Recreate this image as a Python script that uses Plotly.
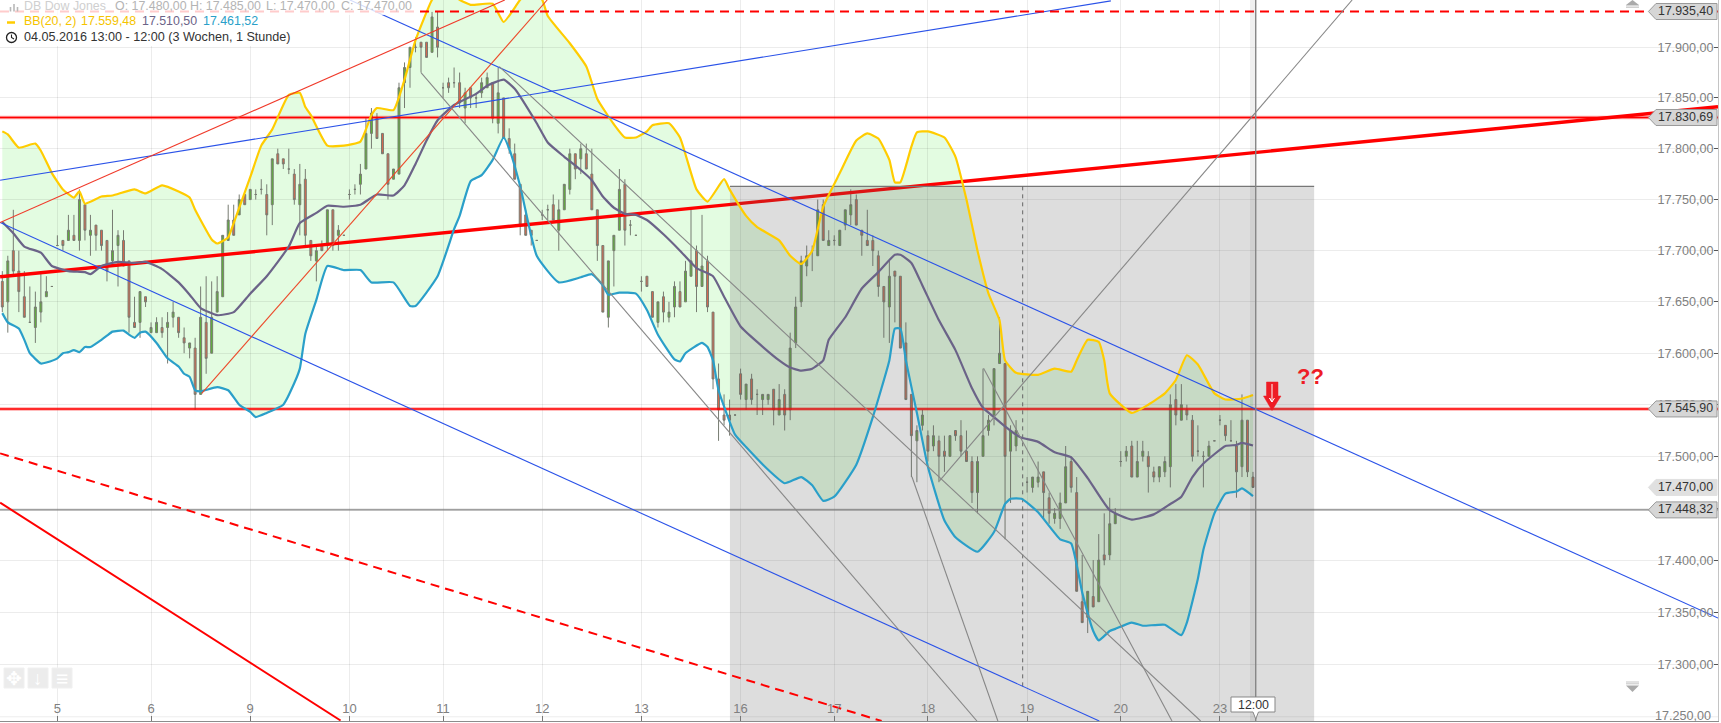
import math
import plotly.graph_objects as go

# ---------- chart data ----------
bars = list(range(228))
open_ = [17670,17650,17700,17680,17655,17630,17625,17640,17655,17665,
 17705,17710,17710,17715,17710,17745,17715,17725,17720,17710,
 17690,17705,17710,17690,17630,17630,17655,17620,17620,17625,
 17625,17635,17635,17615,17605,17605,17560,17630,17600,17640,
 17655,17710,17730,17735,17755,17750,17755,17760,17755,17745,
 17795,17790,17780,17775,17745,17770,17710,17690,17705,17705,
 17740,17715,17715,17755,17760,17765,17780,17815,17830,17815,
 17795,17770,17775,17865,17880,17900,17905,17905,17895,17920,
 17860,17865,17865,17865,17840,17860,17850,17855,17860,17865,
 17825,17850,17810,17795,17765,17735,17720,17710,17735,17740,
 17745,17720,17740,17760,17795,17790,17795,17775,17740,17705,
 17635,17700,17720,17765,17725,17715,17670,17675,17660,17630,
 17655,17635,17645,17660,17650,17675,17700,17665,17690,17640,
 17575,17540,17540,17540,17580,17555,17575,17560,17555,17555,
 17565,17540,17560,17545,17610,17650,17685,17700,17695,17745,
 17705,17710,17705,17725,17735,17750,17720,17710,17710,17695,
 17665,17645,17680,17675,17610,17560,17515,17530,17520,17510,
 17515,17505,17500,17525,17520,17505,17495,17465,17500,17525,
 17540,17590,17590,17505,17510,None,17475,17470,17475,17485,
 17460,17440,17440,17455,17495,17465,17360,17345,17365,17360,
 17405,17405,17435,17495,17500,17510,17480,17500,17500,17485,
 17480,17485,17490,17555,17535,17545,17535,17505,17500,17500,
 17515,17535,17530,17515,17510,17490,17535,17480]
high = [17680,17695,17740,17700,17680,17665,17660,17680,17675,17665,
 17715,17710,17735,17735,17760,17745,17735,17725,17720,17710,
 17740,17720,17720,17690,17655,17660,17655,17630,17635,17635,
 17640,17650,17635,17625,17610,17615,17665,17675,17670,17675,
 17715,17745,17745,17755,17755,17760,17760,17770,17765,17790,
 17800,17790,17800,17780,17785,17780,17710,17705,17710,17740,
 17740,17725,17715,17760,17765,17785,17830,17840,17835,17815,
 17795,17780,17865,17885,17900,17910,17905,17905,17935,17935,
 17865,17870,17880,17875,17860,17860,17855,17870,17875,17865,
 17880,17850,17820,17805,17765,17740,17720,17710,17740,17745,
 17755,17750,17765,17800,17795,17805,17805,17800,17740,17705,
 17690,17715,17780,17770,17730,17715,17675,17675,17660,17650,
 17660,17650,17670,17670,17690,17740,17705,17735,17695,17640,
 17590,17560,17555,17540,17585,17570,17580,17565,17560,17560,
 17565,17570,17565,17620,17655,17695,17705,17705,17750,17750,
 17720,17715,17720,17740,17760,17755,17720,17740,17715,17700,
 17665,17690,17680,17675,17630,17560,17530,17545,17525,17530,
 17520,17520,17520,17525,17535,17525,17500,17500,17585,17540,
 17585,17635,17590,17530,17535,None,17480,17480,17495,17485,
 17465,17450,17465,17510,17500,17480,17405,17370,17400,17425,
 17445,17460,17450,17505,17510,17515,17515,17515,17505,17490,
 17490,17500,17560,17570,17570,17550,17540,17530,17505,17515,
 17515,17540,17530,17535,17515,17560,17535,17485]
low = [17640,17620,17675,17640,17635,17630,17610,17630,17655,17665,
 17705,17700,17710,17710,17700,17710,17695,17700,17700,17670,
 17685,17665,17685,17620,17625,17615,17645,17620,17620,17615,
 17590,17625,17615,17600,17595,17545,17560,17580,17600,17640,
 17655,17710,17715,17735,17745,17750,17750,17755,17715,17725,
 17785,17780,17775,17745,17715,17705,17690,17670,17700,17700,
 17700,17700,17715,17750,17755,17755,17780,17800,17810,17795,
 17750,17770,17775,17840,17860,17895,17875,17890,17895,17890,
 17850,17855,17860,17840,17825,17840,17840,17850,17860,17825,
 17815,17810,17795,17770,17715,17715,17705,17710,17730,17730,
 17730,17700,17740,17755,17770,17775,17780,17740,17690,17640,
 17625,17665,17720,17705,17715,17715,17660,17665,17635,17625,
 17630,17630,17635,17645,17650,17675,17640,17665,17640,17565,
 17515,17530,17520,17540,17555,17545,17550,17540,17540,17550,
 17530,17540,17525,17535,17605,17645,17675,17680,17695,17710,
 17705,17705,17705,17720,17725,17725,17695,17705,17685,17655,
 17615,17610,17630,17605,17555,17480,17475,17525,17495,17505,
 17475,17485,17500,17515,17500,17495,17455,17445,17500,17520,
 17530,17590,17420,17455,17505,None,17465,17465,17470,17440,
 17435,17435,17430,17455,17465,17370,17340,17330,17355,17360,
 17395,17400,17435,17490,17495,17480,17480,17495,17465,17475,
 17475,17480,17470,17530,17535,17535,17495,17500,17470,17500,
 17515,17530,17515,17515,17460,17480,17480,17470]
close = [17645,17690,17680,17660,17635,17630,17645,17650,17660,17665,
 17705,17705,17720,17710,17750,17720,17720,17715,17705,17680,
 17700,17715,17685,17635,17625,17660,17650,17625,17630,17620,
 17630,17640,17620,17610,17610,17560,17635,17595,17635,17660,
 17715,17730,17715,17750,17745,17760,17755,17760,17735,17790,
 17785,17785,17780,17750,17765,17715,17695,17700,17700,17740,
 17705,17720,17715,17755,17760,17775,17815,17835,17810,17795,
 17765,17780,17860,17880,17900,17900,17900,17890,17930,17900,
 17860,17860,17865,17845,17855,17850,17850,17865,17870,17830,
 17855,17810,17800,17770,17725,17715,17715,17710,17735,17740,
 17730,17740,17765,17795,17780,17800,17780,17740,17705,17640,
 17690,17715,17760,17720,17725,17715,17670,17665,17635,17650,
 17640,17640,17665,17645,17680,17690,17665,17685,17645,17575,
 17545,17535,17535,17540,17560,17570,17555,17560,17560,17560,
 17545,17555,17540,17605,17645,17690,17695,17700,17740,17710,
 17710,17710,17720,17740,17745,17725,17715,17705,17700,17665,
 17650,17675,17675,17605,17555,17520,17525,17540,17505,17520,
 17500,17500,17520,17520,17505,17495,17465,17495,17520,17535,
 17585,17600,17500,17525,17525,None,17475,17480,17480,17465,
 17445,17445,17455,17490,17470,17370,17340,17370,17355,17400,
 17400,17435,17445,17495,17505,17480,17495,17505,17490,17480,
 17490,17495,17550,17540,17550,17540,17500,17505,17500,17510,
 17515,17535,17520,17515,17485,17535,17485,17470]

upper_x = [0,1,3,6,7,9,11,13,14,15,18,20,24,26,29,32,34,35,38,39,41,42,45,47,49,52,54,55,56,59,62,65,67,68,71,73,75,78,80,83,85,89,91,94,96,98,99,103,106,108,111,113,115,117,118,121,123,126,128,131,132,135,137,141,143,145,147,149,152,155,157,159,161,162,163,165,166,168,171,173,175,177,179,181,182,184,188,191,194,195,197,199,200,201,205,208,211,213,215,217,220,222,225,227]
upper_y = [17817,17814,17801,17805,17798,17776,17760,17752,17758,17746,17753,17754,17760,17756,17764,17758,17752,17740,17711,17707,17713,17727,17772,17803,17819,17853,17855,17841,17833,17803,17803,17807,17833,17840,17838,17868,17907,17947,17961,17947,17942,17943,17925,17947,17957,17947,17931,17904,17881,17849,17824,17811,17811,17817,17823,17825,17811,17760,17748,17770,17760,17734,17723,17710,17695,17687,17700,17743,17776,17808,17815,17810,17789,17767,17767,17802,17816,17817,17811,17792,17750,17700,17658,17632,17593,17581,17579,17585,17582,17593,17613,17611,17593,17561,17542,17550,17561,17574,17598,17589,17561,17555,17556,17559.48]

middle_x = [0,2,4,7,9,12,15,16,18,21,24,26,29,32,34,36,39,42,45,48,52,54,57,59,62,65,68,71,73,75,77,79,82,86,88,91,93,97,99,102,105,107,109,111,113,115,117,120,123,126,129,131,134,137,141,143,145,147,149,150,153,156,159,162,163,165,167,170,173,176,178,180,182,184,185,188,191,194,197,201,205,209,212,214,216,218,222,224,225,227]
middle_y = [17728,17717,17704,17698,17685,17680,17679,17677,17685,17689,17688,17689,17682,17669,17657,17644,17637,17640,17658,17675,17704,17727,17737,17744,17743,17745,17755,17754,17764,17785,17808,17828,17843,17854,17862,17868,17859,17825,17806,17792,17779,17769,17753,17742,17736,17735,17730,17716,17700,17683,17675,17655,17626,17611,17593,17586,17583,17585,17593,17613,17635,17663,17679,17696,17696,17688,17666,17632,17603,17566,17547,17538,17529,17521,17518,17514,17504,17499,17479,17448,17439,17444,17454,17461,17480,17493,17510,17511,17513,17510.50]

lower_x = [0,1,3,4,5,7,8,10,11,12,13,14,15,16,18,19,20,22,23,24,25,26,28,30,32,33,34,35,36,39,41,43,45,46,48,51,53,54,55,57,59,62,65,67,71,74,75,79,82,83,85,87,89,91,92,94,97,101,105,107,109,110,112,115,117,119,122,123,124,127,128,129,130,133,135,139,142,145,147,149,151,155,158,161,162,163,164,166,168,171,173,177,180,182,183,185,188,192,194,196,198,199,201,202,205,207,211,214,215,217,218,220,222,224,225,227]
lower_y = [17639,17630,17624,17613,17600,17590,17591,17595,17600,17601,17603,17601,17606,17606,17613,17617,17621,17622,17618,17615,17620,17621,17610,17595,17587,17580,17577,17564,17563,17567,17564,17550,17543,17538,17542,17550,17571,17585,17619,17652,17685,17681,17681,17669,17669,17646,17646,17675,17721,17734,17768,17774,17789,17811,17800,17763,17695,17669,17674,17677,17666,17657,17659,17658,17642,17618,17594,17592,17600,17610,17606,17593,17564,17521,17509,17487,17474,17480,17472,17457,17461,17492,17538,17593,17624,17624,17593,17542,17490,17438,17422,17408,17427,17454,17459,17459,17446,17420,17416,17369,17332,17323,17332,17334,17340,17337,17338,17328,17340,17382,17410,17445,17464,17466,17469,17461.52]

x_ticks = [10,27,45,63,80,98,116,134,151,168,186,203,221]
x_labels = ["5","6","9","10","11","12","13","16","17","18","19","20","23"]
y_ticks = [17250,17300,17350,17400,17450,17500,17550,17600,17650,17700,17750,17800,17850,17900]
y_labels = ["17.250,00","17.300,00","17.350,00","17.400,00","17.450,00","17.500,00","17.550,00","17.600,00","17.650,00","17.700,00","17.750,00","17.800,00","17.850,00","17.900,00"]

level_prices = [17935.40, 17830.69, 17545.90, 17470.00, 17448.32]
level_labels = ["17.935,40", "17.830,69", "17.545,90", "17.470,00", "17.448,32"]

thick_red = ([-0.4, 311.4], [17674.5, 17841.3])
blue_up = ([-0.4, 201.2], [17769.0, 17945.9])
blue_mid = ([63.1, 311.4], [17946.8, 17344.4])
blue_low = ([-0.4, 199.1], [17727.5, 17246.0])
red_thin_a = ([-0.4, 91.2], [17727.5, 17946.8])
red_thin_b = ([36.2, 98.9], [17561.0, 17946.8])
red_dash = ([-0.4, 159.6], [17502.9, 17246.0])
red_solid = ([-0.4, 61.4], [17455.3, 17246.5])
gray_lines = [([76.0, 176.9], [17874.9, 17246.0]),
              ([90.2, 217.5], [17880.9, 17246.0]),
              ([165.1, 180.7], [17480.3, 17246.0]),
              ([178.1, 212.3], [17585.3, 17246.0]),
              ([170.1, 245.0], [17476.4, 17946.8])]
box_x = [132.07, 238.1]
box_y = [17246.0, 17763.0]
dash_v = ([185.2, 185.2], [17763.0, 17277.5])
cursor_x = 227.5

# ---------- layout constants ----------
W, H = 1721, 723
PW, PH = 1718.0, 721.0
XR = [-0.417, 311.4]
YR = [17246.0, 17946.8]
LOG_R = [math.log10(YR[0]), math.log10(YR[1])]
def X(px): return px / PW
def Y(py): return 1 - py / PH
def price_py(p): return (LOG_R[1] - math.log10(p)) / (LOG_R[1] - LOG_R[0]) * PH
def path(pts, close_it=True):
    s = "M" + " L".join(f"{X(a):.5f},{Y(b):.5f}" for a, b in pts)
    return s + (" Z" if close_it else "")

fig = go.Figure()
LW = lambda c, w=1, d="solid": dict(color=c, width=w, dash=d)
def line(xy, color, width=1, dash="solid", opacity=1):
    fig.add_trace(go.Scatter(x=xy[0], y=xy[1], mode="lines", line=LW(color, width, dash),
                             opacity=opacity, hoverinfo="skip", showlegend=False))

fig.add_trace(go.Candlestick(x=bars, open=open_, high=high, low=low, close=close,
    increasing=dict(line=dict(color="#777c72", width=1), fillcolor="#5db336"),
    decreasing=dict(line=dict(color="#777c72", width=1), fillcolor="#d9684e"),
    whiskerwidth=0, hoverinfo="skip", showlegend=False))

# lines that the shaded box dims
X_ALL = [XR[0], XR[1]]
line(thick_red, "#ff0000", 3.4)
line((X_ALL, [level_prices[1]] * 2), "rgba(255,0,0,0.35)", 3.6)
line((X_ALL, [level_prices[1]] * 2), "#ff0000", 1.6)
line((X_ALL, [level_prices[2]] * 2), "rgba(255,0,0,0.35)", 3.6)
line((X_ALL, [level_prices[2]] * 2), "#ff0000", 1.6)
line((X_ALL, [level_prices[4]] * 2), "#7f7f7f", 1.2)

# shaded box
fig.add_trace(go.Scatter(x=[box_x[0], box_x[1], box_x[1], box_x[0]],
                         y=[box_y[1], box_y[1], box_y[0], box_y[0]],
                         mode="lines", fill="toself", fillcolor="rgba(96,96,96,0.21)",
                         line=dict(width=0), hoverinfo="skip", showlegend=False))
line((box_x, [box_y[1]] * 2), "#777777", 1.2)
line(dash_v, "#666666", 1, "4px,4px")

# bands
SM = dict(shape="spline", smoothing=0.45)
for xs, ys, col in ((upper_x, upper_y, "#ffcc00"), (middle_x, middle_y, "#6b6388"), (lower_x, lower_y, "#2a9fc9")):
    fig.add_trace(go.Scatter(x=xs, y=ys, mode="lines", line=dict(color=col, width=2.2, **SM),
                             hoverinfo="skip", showlegend=False))

# trend lines on top
line(blue_up, "#2a52e8", 1.1)
line(blue_mid, "#2a52e8", 1.1)
line(blue_low, "#2a52e8", 1.1)
line(red_thin_a, "#f03a2a", 1.1)
line(red_thin_b, "#ec4a2a", 1.1)
line(red_dash, "#ff0000", 2, "9px,6px")
line(red_solid, "#ff0000", 2)
line((X_ALL, [level_prices[0]] * 2), "#ff0000", 1.8, "9px,6px")
for g in gray_lines:
    line(g, "#878787", 1.1)
line(([cursor_x, cursor_x], YR), "#8a8a8a", 1.4)

# ---------- shapes ----------
band_path = "M" + " L".join(f"{a},{b}" for a, b in zip(upper_x, upper_y)) + " L" + " L".join(
    f"{a},{b}" for a, b in zip(lower_x[::-1], lower_y[::-1])) + " Z"
shapes = [
    dict(type="path", path=band_path, xref="x", yref="y", fillcolor="#e3fce1", line=dict(width=0), layer="below"),
    dict(type="rect", xref="paper", yref="paper", x0=X(1250), x1=X(1255.7), y0=0, y1=1,
         fillcolor="rgba(0,0,0,0.06)", line=dict(width=0), layer="above"),
    dict(type="rect", xref="paper", yref="paper", x0=0, x1=X(419), y0=Y(15), y1=1,
         fillcolor="rgba(255,255,255,0.8)", line=dict(width=0), layer="above"),
    dict(type="rect", xref="paper", yref="paper", x0=0, x1=X(285), y0=Y(46), y1=Y(15),
         fillcolor="#ffffff", line=dict(width=0), layer="above"),
    dict(type="line", xref="paper", yref="paper", x0=X(7), x1=X(15), y0=Y(22.5), y1=Y(22.5),
         line=dict(color="#ffcc00", width=2.5), layer="above"),
    dict(type="circle", xref="paper", yref="paper", x0=X(6.5), x1=X(16.5), y0=Y(42.5), y1=Y(32.5),
         line=dict(color="#222222", width=1.3), layer="above"),
    dict(type="path", xref="paper", yref="paper", path=path([(11.5, 34.5), (11.5, 37.5), (14, 39)], False),
         line=dict(color="#222222", width=1.1), layer="above"),
]
for a, b in ((10.5, 7), (14, 4), (17.5, 7)):
    shapes.append(dict(type="line", xref="paper", yref="paper", x0=X(a), x1=X(a), y0=Y(b), y1=Y(11.5),
                       line=dict(color="#b8b8b8", width=1.6), layer="above"))
for a in (4, 28, 52):
    shapes.append(dict(type="rect", xref="paper", yref="paper", x0=X(a), x1=X(a + 20), y0=Y(688), y1=Y(668),
                       fillcolor="#ececec", line=dict(color="#f0f0f0", width=1), layer="above"))
shapes.append(dict(type="path", xref="paper", yref="paper", path=path([(1626, 5), (1639, 5), (1632.5, 0)]),
                   fillcolor="#aaaaaa", line=dict(width=0), layer="above"))
for b in (5.8, 7.3):
    shapes.append(dict(type="line", xref="paper", yref="paper", x0=X(1626), x1=X(1639), y0=Y(b), y1=Y(b),
                       line=dict(color="#b5b5b5", width=0.8), layer="above"))
shapes.append(dict(type="path", xref="paper", yref="paper", path=path([(1626, 685.5), (1639, 685.5), (1632.5, 692)]),
                   fillcolor="#aaaaaa", line=dict(width=0), layer="above"))
for b in (682, 683.8):
    shapes.append(dict(type="line", xref="paper", yref="paper", x0=X(1626), x1=X(1639), y0=Y(b), y1=Y(b),
                       line=dict(color="#b5b5b5", width=0.8), layer="above"))
for i, p in enumerate(level_prices):
    yc = price_py(p)
    live = i == 3
    shapes.append(dict(type="path", xref="paper", yref="paper",
                       path=path([(1648.4, yc), (1656, yc - 8), (1717, yc - 8), (1717, yc + 8), (1656, yc + 8)]),
                       fillcolor="#e0e0e0" if live else "#d6d6d6",
                       line=dict(color="#e0e0e0" if live else "#9a9a9a", width=1), layer="above"))
shapes.append(dict(type="path", xref="paper", yref="paper",
                   path=path([(1231, 697), (1275, 697), (1275, 712), (1258.5, 712), (1255.7, 719), (1253, 712), (1231, 712)]),
                   fillcolor="#ffffff", line=dict(color="#888888", width=1), layer="above"))
shapes.append(dict(type="path", xref="paper", yref="paper",
                   path=path([(1266.5, 382), (1278, 382), (1278, 396), (1281, 396), (1272, 410.5), (1263.5, 396), (1266.5, 396)]),
                   fillcolor="#ee1c25", line=dict(color="#ee1c25", width=0.5), layer="above"))
shapes.append(dict(type="path", xref="paper", yref="paper",
                   path=path([(1272, 384), (1272, 402), (1269.5, 398), (1272, 402), (1274.5, 398)], False),
                   line=dict(color="#ffffff", width=1), layer="above"))

# ---------- text ----------
FONT = "Liberation Sans, Arial, sans-serif"
def T(px, py, text, color, size=12.4, anchor="left", **kw):
    return dict(xref="paper", yref="paper", x=X(px), y=Y(py), text=text, showarrow=False,
                xanchor=anchor, yanchor="middle", borderpad=0, font=dict(family=FONT, size=size, color=color), **kw)

ann = [
    T(22.6, 6.5, "DB Dow Jones", "#cfcfcf"),
    T(113.7, 6.5, "O: 17.480,00", "#b4b4b4"),
    T(189.4, 6.5, "H: 17.485,00", "#b4b4b4"),
    T(265, 6.5, "L: 17.470,00", "#b4b4b4"),
    T(339.5, 6.5, "C: 17.470,00", "#b4b4b4"),
    T(22.6, 21.5, "BB(20, 2)", "#f5c400"),
    T(79.6, 21.5, "17.559,48", "#f5c400"),
    T(140.5, 21.5, "17.510,50", "#6b6388"),
    T(201.7, 21.5, "17.461,52", "#2a9fc9"),
    T(22.6, 37, "04.05.2016 13:00 - 12:00 (3 Wochen, 1 Stunde)", "#333333", 12.6),
    T(1253, 704.5, "12:00", "#333333", 12.4, "center"),
    T(1310.5, 376, "<b>??</b>", "#ee1c25", 22, "center"),
    T(14, 678, "✥", "#ffffff", 19, "center"),
    T(38, 678, "↓", "#ffffff", 19, "center"),
    T(62, 678, "≡", "#ffffff", 21, "center"),
    # plotly drops an inside tick label this close to the axis end, so it is placed here
    T(1711.5, price_py(y_ticks[0]) - 1, y_labels[0], "#808080", 12.6, "right"),
]
for p, lab in zip(level_prices, level_labels):
    ann.append(T(1714, price_py(p) - 0.5, lab, "#333333", 12.4, "right"))

fig.update_layout(
    width=W, height=H, margin=dict(l=0, r=3, t=0, b=2),
    paper_bgcolor="#ffffff", plot_bgcolor="#ffffff", showlegend=False,
    boxgap=0.5, shapes=shapes, annotations=ann, hovermode=False, dragmode=False,
    font=dict(family=FONT),
    xaxis=dict(range=XR, tickmode="array", tickvals=x_ticks, ticktext=x_labels, rangeslider=dict(visible=False),
               showgrid=True, gridcolor="rgba(0,0,0,0.075)", gridwidth=1, zeroline=False,
               ticks="inside", ticklen=5, tickcolor="#777777", ticklabelposition="inside",
               tickfont=dict(family=FONT, size=13, color="#808080"),
               showline=True, linecolor="#8c8c8c", linewidth=1),
    yaxis=dict(type="log", range=LOG_R, side="right", tickmode="array", tickvals=y_ticks[1:], ticktext=y_labels[1:],
               showgrid=True, gridcolor="rgba(0,0,0,0.075)", gridwidth=1, zeroline=False,
               ticks="inside", ticklen=4, tickcolor="#555555", ticklabelposition="inside",
               tickfont=dict(family=FONT, size=12.6, color="#808080"),
               showline=True, linecolor="#c4c4c4", linewidth=1),
)
# the lowest grid line and tick, whose label is the annotation above
fig.add_hline(y=y_ticks[0], line=dict(color="rgba(0,0,0,0.075)", width=1), layer="below")

fig.write_html("out.html", config={"displayModeBar": False},
               post_script="document.body.style.margin='0';document.body.style.overflow='hidden';")
